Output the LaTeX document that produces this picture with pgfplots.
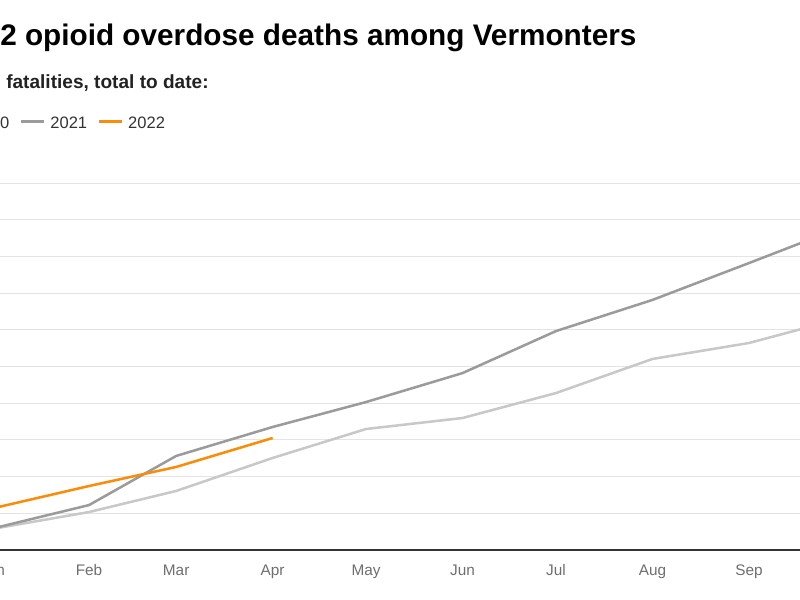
\documentclass[border=0pt]{standalone}
\usepackage{fontspec}
\setmainfont{Liberation Sans}
\usepackage{pgfplots}
\pgfplotsset{compat=1.18}

\definecolor{c2020}{HTML}{C8C8C8}
\definecolor{c2021}{HTML}{9B9B9B}
\definecolor{c2022}{HTML}{FA8C0A}
\definecolor{gridcol}{HTML}{E4E4E4}
\definecolor{axiscol}{HTML}{333333}
\definecolor{subcol}{HTML}{222222}
\definecolor{legcol}{HTML}{333333}
\definecolor{tickcol}{HTML}{6E6E6E}

\begin{document}
\begin{tikzpicture}
% the reference is a crop of a wider chart: keep only that window
\path[use as bounding box] (0,0) rectangle (600pt,450pt);
\clip (0,0) rectangle (600pt,450pt);

\node[anchor=base west, inner sep=0pt, font=\fontsize{22.3}{26}\selectfont\bfseries]
  at (0pt,415.9pt) {2 opioid overdose deaths among Vermonters};
\node[anchor=base west, inner sep=0pt, text=subcol, font=\fontsize{14.3}{17}\selectfont\bfseries]
  at (4.5pt,383.8pt) {fatalities, total to date:};

\begin{axis}[
  at={(-5.625pt,37.5pt)}, anchor=south west,
  scale only axis, width=779.8pt, height=275pt,
  xmin=0, xmax=334, ymin=0, ymax=200,
  axis line style={draw=none},
  tick style={draw=none},
  major tick length=0pt,
  xtick={0,31,59,90,120,151,181,212,243},
  xticklabels={Jan,Feb,Mar,Apr,May,Jun,Jul,Aug,Sep},
  xticklabel style={anchor=base, yshift=-19.5pt, text=tickcol, font=\fontsize{11.5}{13}\selectfont},
  ytick={20,40,...,200},
  yticklabels={},
  ymajorgrids=true,
  major grid style={draw=gridcol, line width=0.75pt},
  extra y ticks={0},
  extra y tick labels={},
  extra y tick style={ymajorgrids=true, major grid style={draw=axiscol, line width=1.1pt}},
  legend columns=-1,
  legend image code/.code={\fill[#1, draw=none] (0pt,4.2pt) rectangle (17.25pt,6.2pt);},
  legend style={at={(-0.04792,1.1435)}, anchor=south west, draw=none, fill=none,
    inner sep=0pt, column sep=0pt,
    nodes={inner sep=0pt, text=legcol, font=\fontsize{12.4}{14}\selectfont, anchor=base},
    /tikz/every odd column/.style={column sep=5pt},
    /tikz/every even column/.style={column sep=8.5pt}},
  every axis plot/.append style={line width=1.9pt, line join=round, mark=none},
]
\addplot[c2020] coordinates {
  (0,11.5) (31,20.7) (59,32.2) (90,50.2) (120,66.0) (151,72.0)
  (181,85.6) (212,104.2) (243,112.9) (273,126.5)
};
\addplot[c2021] coordinates {
  (0,11.7) (31,24.5) (59,51.3) (90,67.1) (120,80.7) (151,96.5)
  (181,119.4) (212,136.4) (243,156.5) (273,176.2)
};
\addplot[c2022] coordinates {
  (0,22.7) (31,34.9) (59,45.3) (90,61.1)
};
\legend{2020,2021,2022}
\end{axis}
\end{tikzpicture}
\end{document}
